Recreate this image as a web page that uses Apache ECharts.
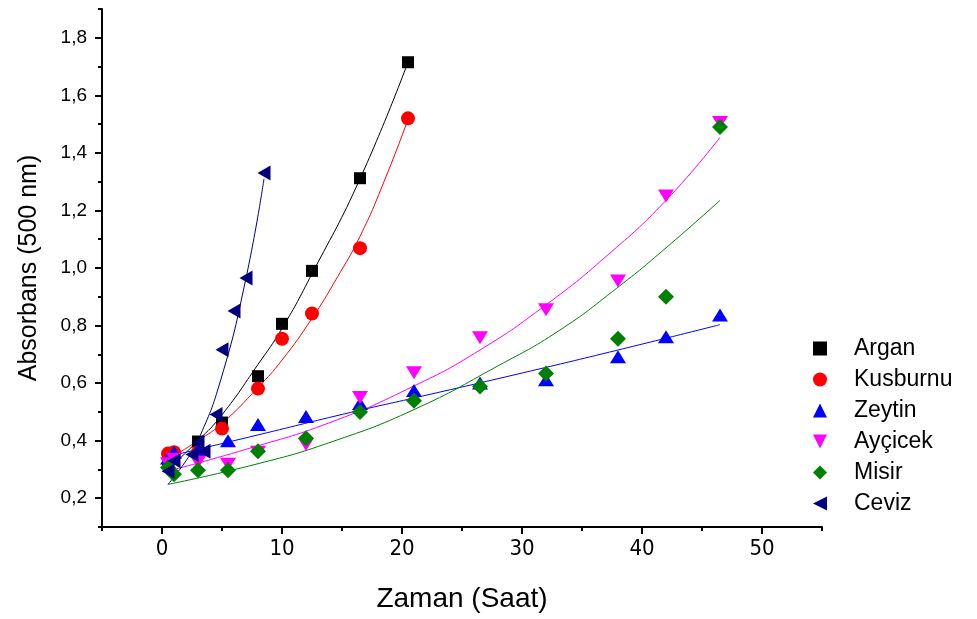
<!DOCTYPE html>
<html>
<head>
<meta charset="utf-8">
<script src="https://cdn.jsdelivr.net/npm/echarts@6/dist/echarts.min.js"></script>
<style>
  html, body { margin: 0; padding: 0; background: #fff; }
  #chart { width: 977px; height: 619px; }
</style>
</head>
<body>
<div id="chart"></div>
<script>
// tick values
var xMajorTicks = [0, 10, 20, 30, 40, 50];
var xMinorTicks = [-5, 5, 15, 25, 35, 45, 55];
var yMajorTicks = [0.2, 0.4, 0.6, 0.8, 1.0, 1.2, 1.4, 1.6, 1.8];
var yMinorTicks = [0.1, 0.3, 0.5, 0.7, 0.9, 1.1, 1.3, 1.5, 1.7, 1.9];

// measured points [saat, absorbans]
var argan    = [[0.5, 0.33], [1, 0.34], [3, 0.397], [5, 0.463], [8, 0.624], [10, 0.806], [12.5, 0.99], [16.5, 1.312], [20.5, 1.715]];
var kusburnu = [[0.5, 0.355], [1, 0.36], [3, 0.36], [5, 0.442], [8, 0.581], [10, 0.754], [12.5, 0.842], [16.5, 1.069], [20.5, 1.52]];
var zeytin   = [[0.5, 0.34], [1, 0.36], [3, 0.37], [5.5, 0.40], [8, 0.456], [12, 0.484], [16.5, 0.529], [21, 0.574], [26.5, 0.60], [32, 0.612], [38, 0.692], [42, 0.761], [46.5, 0.837]];
var aycicek  = [[0.5, 0.32], [1, 0.335], [3, 0.325], [5.5, 0.318], [8, 0.36], [12, 0.387], [16.5, 0.55], [21, 0.636], [26.5, 0.758], [32, 0.855], [38, 0.955], [42, 1.25], [46.5, 1.506]];
var misir    = [[0.5, 0.307], [1, 0.283], [3, 0.297], [5.5, 0.297], [8, 0.363], [12, 0.408], [16.5, 0.50], [21, 0.539], [26.5, 0.588], [32, 0.633], [38, 0.754], [42, 0.90], [46.5, 1.49]];
var ceviz    = [[0.5, 0.294], [1, 0.33], [2.5, 0.352], [3, 0.394], [3.5, 0.363], [4.5, 0.491], [5, 0.716], [6, 0.851], [7, 0.965], [8.5, 1.33]];

// fit curves
var arganFit    = [[0.5, 0.30], [3, 0.40], [5, 0.49], [8, 0.665], [10, 0.79], [12.5, 0.98], [16.5, 1.31], [20.5, 1.715]];
var kusburnuFit = [[0.5, 0.335], [3, 0.40], [5, 0.46], [8, 0.585], [10, 0.68], [12.5, 0.825], [14.5, 0.96], [16.5, 1.11], [18.5, 1.30], [20.5, 1.516]];
var zeytinFit   = [[0.5, 0.345], [8, 0.42], [15.7, 0.498], [21.5, 0.553], [30, 0.635], [38, 0.715], [46.5, 0.803]];
var aycicekFit  = [[0.5, 0.294], [7, 0.37], [14, 0.463], [21, 0.59], [26.5, 0.715], [32, 0.872], [37, 1.04], [42, 1.235], [46.5, 1.454]];
var misirFit    = [[0.5, 0.248], [8, 0.32], [14, 0.394], [21, 0.508], [28, 0.66], [33, 0.78], [37.9, 0.93], [42, 1.07], [46.5, 1.235]];
var cevizFit    = [[0.5, 0.248], [2, 0.33], [3, 0.40], [4.9, 0.612], [7, 0.965], [8.5, 1.31]];

var names   = ['Argan', 'Kusburnu', 'Zeytin', 'Ayçicek', 'Misir', 'Ceviz'];
var colors  = ['#000000', '#ff0000', '#0000ff', '#ff00ff', '#008000', '#000080'];
var points  = [argan, kusburnu, zeytin, aycicek, misir, ceviz];
var fits    = [arganFit, kusburnuFit, zeytinFit, aycicekFit, misirFit, cevizFit];
var symbols = [
  { symbol: 'rect', size: 12 },
  { symbol: 'circle', size: 14 },
  { symbol: 'path://M5,0 L10,10 L0,10 Z', size: [16, 13] },
  { symbol: 'path://M0,0 L10,0 L5,10 Z', size: [16, 13] },
  { symbol: 'diamond', size: 16 },
  { symbol: 'path://M10,0 L10,10 L0,5 Z', size: [13, 15] }
];

var chart = echarts.init(document.getElementById('chart'));
var sans = 'Liberation Sans, Arial, sans-serif';

var series = [];
fits.forEach(function (f, i) {
  series.push({
    name: names[i] + ' fit',
    type: 'line',
    data: f,
    smooth: true,
    showSymbol: false,
    silent: true,
    lineStyle: { color: colors[i], width: 1 },
    z: 1
  });
});
points.forEach(function (p, i) {
  series.push({
    name: names[i],
    type: 'scatter',
    data: p,
    symbol: symbols[i].symbol,
    symbolSize: symbols[i].size,
    itemStyle: { color: colors[i], opacity: 1 },
    z: 3
  });
});

var option = {
  backgroundColor: '#fff',
  animation: false,
  grid: { left: 102, top: 9, right: 155, bottom: 92 },
  legend: {
    data: names,
    orient: 'vertical',
    left: 813,
    top: 337,
    itemWidth: 14,
    itemHeight: 14,
    itemGap: 8,
    padding: 0,
    textStyle: { fontFamily: sans, fontSize: 23, lineHeight: 21, color: '#000', padding: [0, 0, 0, 22] }
  },
  xAxis: [{
    type: 'value',
    min: -5,
    max: 55,
    name: 'Zaman (Saat)',
    nameLocation: 'middle',
    nameGap: 58,
    nameTextStyle: { fontFamily: sans, fontSize: 28, color: '#000' },
    axisLine: { onZero: false, lineStyle: { color: '#000', width: 2 } },
    axisTick: { customValues: xMajorTicks, length: 7, lineStyle: { color: '#000', width: 2 } },
    axisLabel: { customValues: xMajorTicks, margin: 11, fontFamily: 'Liberation Sans Narrow, DejaVu Sans Condensed, sans-serif', fontSize: 22, color: '#000' },
    splitLine: { show: false }
  }, {
    type: 'value',
    min: -5,
    max: 55,
    position: 'bottom',
    axisLine: { show: false, onZero: false },
    axisTick: { customValues: xMinorTicks, length: 4, lineStyle: { color: '#000', width: 2 } },
    axisLabel: { show: false },
    splitLine: { show: false }
  }],
  yAxis: [{
    type: 'value',
    min: 0.1,
    max: 1.9,
    name: 'Absorbans (500 nm)',
    nameLocation: 'middle',
    nameGap: 60,
    nameTextStyle: { fontFamily: sans, fontSize: 25, color: '#000' },
    axisLine: { show: true, onZero: false, lineStyle: { color: '#000', width: 2 } },
    axisTick: { show: true, customValues: yMajorTicks, length: 7, lineStyle: { color: '#000', width: 2 } },
    axisLabel: {
      customValues: yMajorTicks,
      margin: 15,
      fontFamily: sans,
      fontSize: 19,
      color: '#000',
      formatter: function (v) { return v.toFixed(1).replace('.', ','); }
    },
    splitLine: { show: false }
  }, {
    type: 'value',
    min: 0.1,
    max: 1.9,
    position: 'left',
    axisLine: { show: false, onZero: false },
    axisTick: { show: true, customValues: yMinorTicks, length: 4, lineStyle: { color: '#000', width: 2 } },
    axisLabel: { show: false },
    splitLine: { show: false }
  }],
  series: series
};

chart.setOption(option);
</script>
</body>
</html>
